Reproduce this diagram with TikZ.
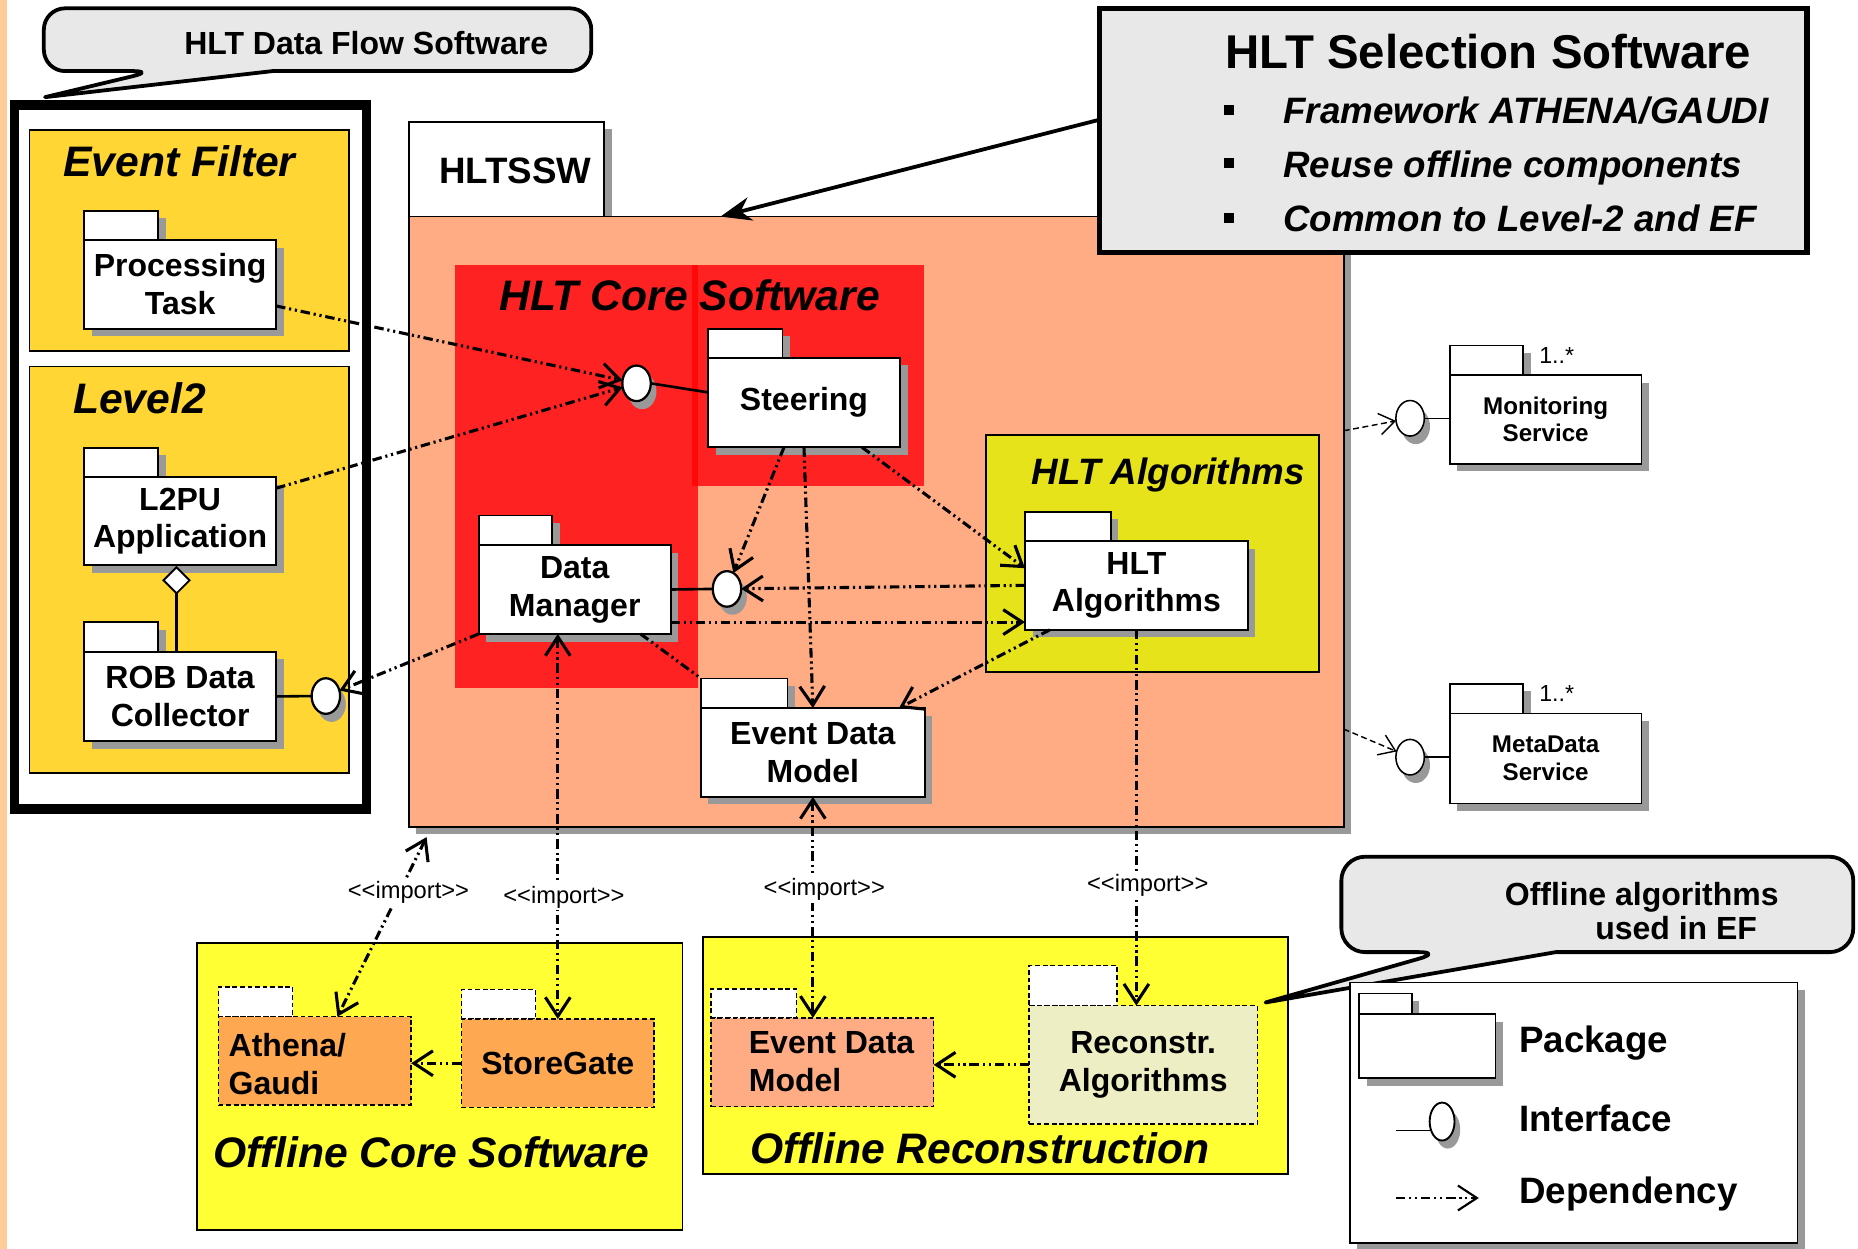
\documentclass[tikz,border=0pt]{standalone}
\usepackage{fontspec}
\setmainfont{Liberation Sans}
\usetikzlibrary{arrows.meta,shapes.geometric,shadows}

\definecolor{stripc}{HTML}{FFCC99}
\definecolor{calloutc}{HTML}{E8E8E8}
\definecolor{efyellow}{HTML}{FFD634}
\definecolor{salmon}{HTML}{FFAC84}
\definecolor{corered}{HTML}{FF2222}
\definecolor{seamred}{HTML}{FF0808}
\definecolor{algyellow}{HTML}{E6E31A}
\definecolor{offyellow}{HTML}{FFFF33}
\definecolor{athorange}{HTML}{FFA852}
\definecolor{recpale}{HTML}{EEEEC4}
\definecolor{shadowgray}{HTML}{999999}

\newcommand{\fPkg}{\fontsize{13.5pt}{16pt}\selectfont\bfseries}
\newcommand{\fSvc}{\fontsize{10.2pt}{11.5pt}\selectfont\bfseries}
\newcommand{\fArea}{\fontsize{18pt}{21pt}\selectfont\bfseries\itshape}
\newcommand{\fAlgArea}{\fontsize{15.5pt}{18pt}\selectfont\bfseries\itshape}
\newcommand{\fTitle}{\fontsize{20pt}{24pt}\selectfont\bfseries}
\newcommand{\fItem}{\fontsize{15.5pt}{18pt}\selectfont\bfseries\itshape}
\newcommand{\fTab}{\fontsize{15.5pt}{18pt}\selectfont\bfseries}
\newcommand{\fLegend}{\fontsize{15.5pt}{18pt}\selectfont\bfseries}
\newcommand{\fImport}{\fontsize{10pt}{12pt}\selectfont}
\newcommand{\fMult}{\fontsize{9.8pt}{12pt}\selectfont}

% UML package: [options]{name}{left}{body top}{body width}{body height}{tab width}{tab height}{label}
\newcommand{\umlpackage}[9][]{%
  \node[pkgtab,#1,fill=white,minimum width=#7*0.5pt,minimum height=#8*0.5pt,anchor=south west] (#2-tab) at (#3,#4) {};%
  \node[pkgbody,#1,minimum width=#5*0.5pt,minimum height=#6*0.5pt,anchor=north west] (#2) at (#3,#4) {#9};%
}

\tikzset{
  ohead/.tip={Straight Barb[length=8pt,width=10.5pt]},
  box/.style={draw, line width=0.7pt, inner sep=0pt, outer sep=0pt},
  pkgtab/.style={box},
  pkgbody/.style={box, fill=white, font=\fPkg, align=center},
  shadowed/.style={drop shadow={shadow xshift=3.2pt, shadow yshift=-3.2pt, fill=shadowgray, opacity=1}},
  offline/.style={dash pattern=on 2pt off 1.2pt, line width=0.6pt},
  txt/.style={inner sep=0pt, outer sep=0pt},
  iface/.style={ellipse, draw, fill=white, line width=0.95pt, minimum width=12pt, minimum height=15pt,
    inner sep=0pt, outer sep=0pt,
    drop shadow={shadow xshift=2.4pt, shadow yshift=-3.4pt, fill=shadowgray, opacity=1}},
  ifline/.style={line width=1.1pt},
  thinline/.style={line width=0.6pt},
  deppat/.style={line width=1.3pt, dash pattern=on 4pt off 1.6pt on 0.9pt off 1.6pt on 0.9pt off 1.6pt},
  dep/.style={deppat, -ohead},
  depboth/.style={deppat, ohead-ohead},
  mondep/.style={line width=0.6pt, dash pattern=on 2.5pt off 1.5pt, -{Straight Barb[length=6.5pt,width=9pt]}},
  imp/.style={font=\fImport, fill=white, inner sep=1pt},
  callout/.style={draw, fill=calloutc, line width=1.6pt, line join=round},
  selarrow/.style={line width=1.6pt, -{Stealth[length=13pt,width=10pt]}},
  bulletsq/.style={fill=black, minimum width=4pt, minimum height=4.4pt, inner sep=0pt},
}

\begin{document}
\begin{tikzpicture}[x=0.5pt, y=-0.5pt]
\useasboundingbox (0,0) rectangle (1568,1054);
\fill[white] (0,0) rectangle (1568,1054);
\fill[stripc] (0,0) rectangle (6,1054);

% ---------- data-flow software ----------
\draw[callout] (230,60) [rounded corners=9pt] -- (499,60) -- (499,7) -- (37,7) -- (37,60) -- (130,60) [sharp corners] -- (38,82) -- cycle;
\node[txt, font=\fPkg, anchor=base] (dflabel) at (309,46) {HLT Data Flow Software};

\node[box, line width=3.9pt, fill=white, minimum width=296.8*0.5pt, minimum height=594.1*0.5pt] (dfframe) at (160.6,385.65) {};

\node[box, fill=efyellow, minimum width=269.6*0.5pt, minimum height=186.3*0.5pt, anchor=north west] (ef) at (25,109.7) {};
\node[txt, font=\fArea, anchor=base west] (eflabel) at (53.4,149) {Event Filter};
\node[box, fill=efyellow, minimum width=269.6*0.5pt, minimum height=343.1*0.5pt, anchor=north west] (l2) at (25,309.4) {};
\node[txt, font=\fArea, anchor=base west] (l2label) at (61.7,349) {Level2};

\umlpackage[shadowed]{proc}{71}{202.5}{162}{75}{62.5}{24.7}{Processing\\Task}
\umlpackage[shadowed]{l2pu}{71}{402.6}{162}{74.4}{62.5}{24.8}{L2PU\\Application}
\umlpackage[shadowed]{rob}{71}{550}{162}{75.5}{62.5}{25}{ROB Data\\Collector}

\node[diamond, draw, fill=white, line width=0.8pt, minimum width=11pt, minimum height=11pt, inner sep=0pt, outer sep=0pt] (agg) at (149,489.7) {};
\draw[line width=0.9pt] (agg.south) -- (agg.south |- rob.north);

\node[iface] (robI) at (275,587.4) {};
\draw[ifline] (rob.east) -- (robI.west);

% ---------- selection software package ----------
\node[box, fill=white, shadowed, minimum width=164.7*0.5pt, minimum height=80*0.5pt, anchor=south west] (hltssw-tab) at (345,182.8) {};
\node[box, fill=salmon, shadowed, minimum width=789*0.5pt, minimum height=515*0.5pt, anchor=north west] (hltssw) at (345,182.8) {};
\node[txt, font=\fTab, anchor=base] (hltsswlabel) at (434.8,155) {HLTSSW};

\fill[corered] (383.7,224) rectangle (588.8,580.6);
\fill[corered] (584.3,224) rectangle (780,410);
\fill[seamred] (584.3,224) rectangle (588.8,410);
\node[txt, font=\fArea, anchor=base] (corelabel) at (582,262) {HLT Core Software};

\node[box, fill=algyellow, minimum width=281*0.5pt, minimum height=200*0.5pt, anchor=north west] (algbox) at (832,367) {};
\node[txt, font=\fAlgArea, anchor=base] (alglabel) at (986,409) {HLT Algorithms};

% ---------- summary box ----------
\node[box, line width=2.2pt, fill=calloutc, minimum width=597*0.5pt, minimum height=206*0.5pt, anchor=north west] (sel) at (928,7) {};
\node[txt, font=\fTitle, anchor=base] (seltitle) at (1256,57.7) {HLT Selection Software};
\node[bulletsq] (sb1) at (1037,92.8) {};
\node[bulletsq] (sb2) at (1037,137.8) {};
\node[bulletsq] (sb3) at (1037,184) {};
\node[txt, font=\fItem, anchor=base west] (si1) at (1083,104) {Framework ATHENA/GAUDI};
\node[txt, font=\fItem, anchor=base west] (si2) at (1083,149.5) {Reuse offline components};
\node[txt, font=\fItem, anchor=base west] (si3) at (1083,195.5) {Common to Level-2 and EF};
\draw[selarrow] ([yshift=4.5pt]sel.west) -- ([xshift=-65.75pt]hltssw.north);

% ---------- packages inside HLTSSW ----------
\umlpackage[shadowed]{steer}{597.5}{302}{162}{75.5}{63}{24.5}{Steering}
\umlpackage[shadowed]{dm}{404}{460}{162}{75}{62}{25}{Data\\Manager}
\umlpackage[shadowed]{alg}{865}{456.5}{188}{75}{72.5}{24.5}{HLT\\Algorithms}
\umlpackage[shadowed]{edm}{591.5}{597.5}{189}{75}{73}{25}{Event Data\\Model}

\node[iface] (steerI) at (537.2,323.5) {};
\node[iface] (dmI) at (613.5,497) {};
\draw[ifline] (steerI.east) -- ([yshift=4.3pt]steer.west);
\draw[ifline] (dm.east) -- (dmI.west);

% ---------- services ----------
\umlpackage[shadowed,font=\fSvc]{mon}{1223.4}{316.5}{162}{75}{62}{24.8}{Monitoring\\Service}
\umlpackage[shadowed,font=\fSvc]{meta}{1223.4}{602}{162}{76}{62}{25}{MetaData\\Service}
\node[iface, line width=0.65pt] (monI) at (1190,353) {};
\node[iface, line width=0.65pt] (metaI) at (1190,639) {};
\draw[thinline] (monI.east) -- (monI.east -| mon.west);
\draw[thinline] (metaI.east) -- (metaI.east -| meta.west);
\node[txt, font=\fMult, anchor=base west] (monmult) at (1299,306.6) {1..*};
\node[txt, font=\fMult, anchor=base west] (metamult) at (1299,592) {1..*};

% ---------- offline software ----------
\node[box, fill=offyellow, minimum width=410*0.5pt, minimum height=242*0.5pt, anchor=north west] (offcore) at (166,796) {};
\node[txt, font=\fArea, anchor=base] (offcorelabel) at (364,985) {Offline Core Software};
\node[box, fill=offyellow, minimum width=494*0.5pt, minimum height=200*0.5pt, anchor=north west] (offrec) at (593,790.6) {};
\node[txt, font=\fArea, anchor=base] (offreclabel) at (827,982) {Offline Reconstruction};

\umlpackage[offline,fill=athorange]{ath}{184.5}{858}{162.5}{74.5}{62.5}{25}{}
\node[txt, font=\fPkg, align=left, anchor=north west] (athtext) at (193,872.3) {Athena/\\Gaudi};
\umlpackage[offline,fill=athorange]{sg}{389.5}{860}{162.5}{74.6}{62.5}{25}{StoreGate}
\umlpackage[offline,fill=salmon]{oedm}{600}{859}{188}{75}{72.4}{24.4}{}
\node[txt, font=\fPkg, align=left, anchor=north west] (oedmtext) at (632,870.5) {Event Data\\Model};
\umlpackage[offline,fill=recpale]{rec}{868.5}{848.7}{192.5}{99.8}{74.1}{33.7}{Reconstr.\\Algorithms}

% ---------- dependencies ----------
\draw[dep] ([yshift=-9.1pt]proc.east) -- (steerI);
\draw[dep] ([yshift=13.9pt]l2pu.east) -- (steerI);
\draw[dep] (dm.south west) -- (robI);
\draw[dep] ([xshift=-8.45pt]steer.south) -- (dmI);
\draw[dep] (steer.south) -- (edm.north);
\draw[dep] ([xshift=24.5pt]steer.south) -- ([yshift=7.25pt]alg.west);
\draw[dep] (alg.west) -- (dmI);
\draw[dep] ([yshift=-13.75pt]dm.east) -- ([yshift=-13.75pt]dm.east -| alg.west);
\draw[deppat] ([xshift=27.8pt]dm.south) -- (edm-tab.north west);
\draw[dep] ([xshift=10.5pt]alg.south west) -- ([xshift=-10.9pt]edm.north east);

\draw[depboth] ([xshift=7.5pt,yshift=-4.3pt]hltssw.south west) -- ([xshift=9.5pt]ath.north)
  node[imp, pos=0.31, xshift=4pt] (imp1) {<\kern0pt<import>\kern0pt>};
\draw[depboth] (sg.north |- dm.south) -- (sg.north)
  node[imp, pos=0.683, xshift=2.6pt] (imp2) {<\kern0pt<import>\kern0pt>};
\draw[depboth] (edm.south) -- (edm.south |- oedm.north)
  node[imp, pos=0.42, xshift=4.8pt] (imp3) {<\kern0pt<import>\kern0pt>};
\draw[dep] (alg.south) -- (alg.south |- rec.north)
  node[imp, pos=0.681, xshift=4.8pt] (imp4) {<\kern0pt<import>\kern0pt>};

\draw[dep] (sg.west) -- (sg.west -| ath.east);
\draw[dep] (rec.west) -- (rec.west -| oedm.east);

\draw[mondep] ([yshift=38.4pt]hltssw.east) -- (monI);
\draw[mondep] ([yshift=-87.5pt]hltssw.east) -- (metaI);

% ---------- offline algorithms note ----------
\draw[callout] (1313,803.5) [rounded corners=10pt] -- (1564,803.5) -- (1564,723) -- (1132,723) -- (1132,803.5) -- (1217,803.5) [sharp corners] -- (1068,846) -- cycle;
\node[txt, font=\fPkg, anchor=base] (oalabel1) at (1385.5,764) {Offline algorithms};
\node[txt, font=\fPkg, anchor=base] (oalabel2) at (1414.5,793) {used in EF};

% ---------- legend ----------
\node[box, fill=white, shadowed, minimum width=378*0.5pt, minimum height=220*0.5pt, anchor=north west] (legend) at (1139,829) {};
\umlpackage[shadowed]{legpkg}{1147}{856}{115}{54}{44.5}{17.5}{}
\node[txt, font=\fLegend, anchor=base west] (legpkgtext) at (1282,888) {Package};
\node[iface, line width=0.8pt, minimum width=10.5pt, minimum height=16pt] (legI) at (1217,946.5) {};
\coordinate (legIstub) at (1178,954);
\draw[line width=0.8pt] (legIstub) -- (legIstub -| legI.west);
\node[txt, font=\fLegend, anchor=base west] (legiftext) at (1282,955) {Interface};
\coordinate (legDa) at (1178,1011);
\coordinate (legDb) at (1248,1011);
\draw[dep, line width=0.9pt] (legDa) -- (legDb);
\node[txt, font=\fLegend, anchor=base west] (legdeptext) at (1282,1016) {Dependency};
\end{tikzpicture}
\end{document}
